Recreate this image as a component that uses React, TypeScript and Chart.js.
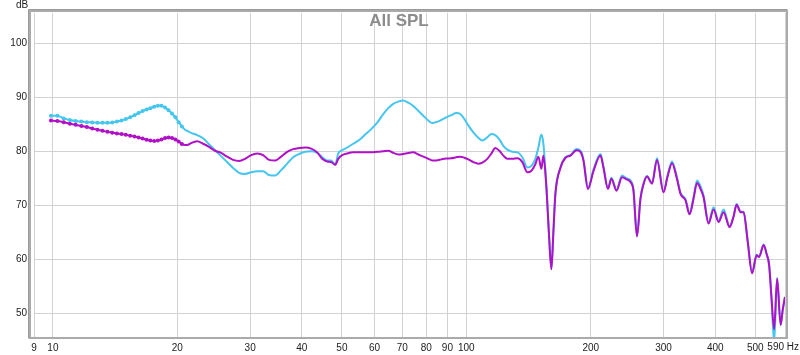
import React, { useEffect, useRef } from "react";
import { Chart, registerables } from "chart.js";

Chart.register(...registerables);

const chartTitle = "All SPL";
const yUnit = "dB";
const xUnit = "Hz";

const xTicks = [9, 10, 20, 30, 40, 50, 60, 70, 80, 90, 100, 200, 300, 400, 500, 590];
const yTicks = [50, 60, 70, 80, 90, 100];

const freqs = [
  9.89, 10.25, 10.62, 10.99, 11.35, 11.72, 12.08, 12.45, 12.82, 13.18,
  13.55, 13.92, 14.28, 14.65, 15.01, 15.38, 15.75, 16.11, 16.48, 16.85,
  17.21, 17.58, 17.94, 18.31, 18.68, 19.04, 19.41, 19.78, 20.14, 20.51,
  20.87, 21.24,
  21.58, 22.32, 23.08, 23.86, 24.67, 25.51, 26.38, 27.28, 28.21, 29.17,
  30.16, 31.19, 32.25, 33.34, 34.48, 35.65, 36.86, 38.12, 39.41, 40.75,
  42.14, 43.57, 44.81, 46.07, 47.11, 48.17, 48.99, 50.09, 51.51, 53.26,
  55.07, 56.94, 58.88, 60.88, 62.96, 64.74, 66.57, 68.45, 70.38, 72.37,
  74.42, 76.52, 78.69, 80.91, 82.73, 84.6, 86.99, 89.45, 91.98, 94.58,
  96.71, 98.9,
  101.1, 103.98, 106.9, 109.3, 112.4, 115.0, 117.5, 120.2, 122.9, 125.7,
  129.2, 132.9, 136.6, 140.5, 143.7, 146.9, 149.4, 151.9, 153.6, 156.2,
  158.4, 160.6, 162.4, 164.2, 168.9, 173.7, 178.6, 184.7, 188.8, 192.0,
  196.9, 203.0, 211.1, 214.6, 220.1, 224.4, 230.8, 238.0, 244.0, 249.5,
  253.7, 258.7, 263.8, 268.3, 273.6, 281.3, 289.2, 299.9, 306.7, 314.5,
  322.5, 329.7, 339.1, 346.7, 354.5, 361.5, 368.6, 374.8, 385.4, 396.3,
  407.5, 419.1, 433.3, 443.1, 450.6, 460.7, 468.5, 479.1, 491.2, 503.7,
  510.8, 523.8, 532.6, 540.1, 547.6, 555.3, 564.7, 575.8, 582.3, 590,
];

const cyanSpl = [
  86.6, 86.6, 86.1, 85.8, 85.6, 85.5, 85.4, 85.35, 85.3, 85.3,
  85.3, 85.35, 85.5, 85.7, 86.0, 86.3, 86.7, 87.1, 87.45, 87.75,
  88.0, 88.25, 88.45, 88.45, 88.1, 87.6, 87.0, 86.3, 85.4, 84.6,
  84.0, 83.7,
  83.4, 83.0, 82.4, 81.3, 80.2, 79.1, 78.0, 76.9, 76.0, 75.8,
  76.1, 76.3, 76.3, 75.6, 75.5, 76.5, 77.7, 78.9, 79.5, 79.9,
  80.0, 79.7, 78.9, 78.3, 78.3, 77.5, 79.6, 80.2, 80.7, 81.4,
  82.1, 83.1, 84.1, 85.3, 86.9, 88.0, 88.8, 89.2, 89.4, 89.0,
  88.4, 87.5, 86.6, 85.7, 85.25, 85.4, 85.8, 86.3, 86.7, 87.1,
  86.9, 86.0,
  84.8, 83.5, 82.5, 82.0, 82.6, 83.2, 83.0, 82.2, 81.0, 80.3,
  79.9, 79.8, 78.9, 77.0, 77.3, 78.6, 80.7, 83.1, 81.4, 73.5,
  65.0, 58.2, 65.0, 72.1, 77.0, 78.9, 79.3, 80.4, 80.1, 78.5,
  73.2, 76.6, 79.5, 77.2, 73.2, 75.1, 72.9, 75.5, 75.0, 74.6,
  72.9, 64.3, 71.3, 74.0, 75.4, 74.1, 78.7, 72.5, 75.5, 78.1,
  75.5, 72.3, 71.1, 68.5, 71.5, 74.6, 73.5, 71.8, 66.8, 69.6,
  67.1, 69.2, 66.1, 68.0, 70.2, 68.8, 68.8, 63.5, 57.5, 60.8,
  60.5, 62.7, 61.0, 59.0, 52.5, 44.5, 56.5, 47.8, 50.5, 53.0,
];

const magentaSpl = [
  85.7, 85.6, 85.4, 85.1, 84.9, 84.7, 84.5, 84.2, 84.0, 83.8,
  83.6, 83.45, 83.3, 83.2, 83.05, 82.9, 82.75, 82.55, 82.35, 82.15,
  82.0, 81.9, 82.0, 82.2, 82.45, 82.55, 82.45, 82.2, 81.8, 81.35,
  81.15, 81.2,
  81.5, 81.85, 81.4, 80.8, 80.1, 79.7, 79.0, 78.4, 78.2, 78.6,
  79.3, 79.6, 79.3, 78.4, 78.3, 79.0, 79.9, 80.4, 80.6, 80.7,
  80.5, 79.8, 78.6, 78.1, 78.0, 77.5, 78.6, 79.3, 79.6, 79.8,
  79.8, 79.8, 79.8, 79.9, 80.0, 80.1, 79.7, 79.4, 79.5, 79.7,
  79.8, 79.4, 79.0, 78.6, 78.3, 78.3, 78.5, 78.65, 78.7, 78.9,
  79.0, 78.8,
  78.5, 78.0, 77.7, 77.9, 78.6, 79.6, 80.6, 80.1, 79.2, 78.6,
  78.6, 78.7, 78.0, 76.1, 76.4, 77.6, 79.0, 76.75, 79.2, 73.3,
  64.8, 58.1, 65.0, 72.0, 76.9, 78.8, 79.2, 80.2, 79.9, 78.3,
  73.0, 76.3, 79.2, 77.0, 73.0, 74.9, 72.7, 75.2, 74.8, 74.3,
  72.7, 64.2, 71.2, 73.9, 75.3, 74.0, 78.4, 72.4, 75.3, 77.8,
  75.2, 72.1, 70.9, 68.3, 71.2, 74.1, 73.0, 71.5, 66.6, 69.2,
  66.9, 68.7, 65.95, 67.9, 70.1, 68.7, 68.7, 63.4, 57.4, 60.7,
  60.4, 62.6, 60.9, 58.9, 52.5, 47.0, 56.4, 47.8, 50.5, 53.0,
];

const CYAN = "#45c6ee";
const MAGENTA = "#b010c8";
const FONT = "Arial, 'Liberation Sans', sans-serif";
const TICK_SIZE = 10;
const lastTick = xTicks[xTicks.length - 1];

const framePlugin = {
  id: "frameAndLabels",
  afterDraw(chart: any) {
    const { ctx, chartArea } = chart;
    ctx.save();
    // frame
    ctx.strokeStyle = "#ababab";
    ctx.lineWidth = 2;
    ctx.strokeRect(chartArea.left - 4, chartArea.top - 2, chartArea.right - chartArea.left + 6, chartArea.bottom - chartArea.top + 3);
    ctx.strokeStyle = "#9a9a9a";
    ctx.lineWidth = 1;
    ctx.beginPath();
    ctx.moveTo(chartArea.left - 5.5, chartArea.bottom + 1.5);
    ctx.lineTo(chartArea.left - 5.5, chartArea.top - 3.5);
    ctx.lineTo(chartArea.right + 2.5, chartArea.top - 3.5);
    ctx.stroke();
    // title
    ctx.fillStyle = "#8c8c8c";
    ctx.font = `bold 17px ${FONT}`;
    ctx.textAlign = "center";
    ctx.textBaseline = "middle";
    ctx.fillText(chartTitle, 399, 21);
    // units
    ctx.fillStyle = "#222";
    ctx.font = `${TICK_SIZE}px ${FONT}`;
    ctx.textAlign = "left";
    ctx.textBaseline = "middle";
    ctx.fillText(yUnit, 16, 5);
    const xs = chart.scales.x;
    ctx.textAlign = "right";
    ctx.fillText(`${lastTick} ${xUnit}`, 799, xs.top + 10.5);
    ctx.restore();
  },
};

export default function App() {
  const ref = useRef<HTMLCanvasElement>(null);
  useEffect(() => {
    const mk = (ys: number[]) => freqs.map((f, i) => ({ x: f, y: ys[i] }));
    const dot = (c: any) => (c.raw && c.raw.x < 20.7 ? 2 : 0);
    const chart = new Chart(ref.current as HTMLCanvasElement, {
      type: "line",
      data: {
        datasets: [
          {
            label: "B",
            data: mk(magentaSpl),
            borderColor: MAGENTA,
            backgroundColor: MAGENTA,
            pointBackgroundColor: MAGENTA,
            borderWidth: 2,
            pointRadius: dot as any,
            pointBorderWidth: 0,
            cubicInterpolationMode: "monotone",
          },
          {
            label: "A",
            data: mk(cyanSpl),
            borderColor: CYAN,
            backgroundColor: CYAN,
            pointBackgroundColor: CYAN,
            borderWidth: 2,
            pointRadius: dot as any,
            pointBorderWidth: 0,
            cubicInterpolationMode: "monotone",
          },
        ],
      },
      options: {
        animation: false,
        responsive: false,
        devicePixelRatio: 1,
        layout: { padding: { top: 12, right: 15, left: 0, bottom: 0 } },
        plugins: {
          legend: { display: false },
          tooltip: { enabled: false },
          title: { display: false },
        },
        scales: {
          x: {
            type: "logarithmic",
            min: 9,
            max: 590,
            afterBuildTicks: (s: any) => {
              s.ticks = xTicks.map((v) => ({ value: v }));
            },
            afterFit: (s: any) => {
              s.height = 18;
            },
            ticks: {
              autoSkip: false,
              maxRotation: 0,
              minRotation: 0,
              padding: 5,
              color: "#222",
              font: { family: FONT, size: TICK_SIZE },
              callback: (v: any) => (v === lastTick ? "" : String(v)),
            },
            grid: { color: "#d2d2d2", drawTicks: false, lineWidth: 1 },
            border: { display: false },
          },
          y: {
            type: "linear",
            min: 45.56,
            max: 105.64,
            afterBuildTicks: (s: any) => {
              s.ticks = yTicks.map((v) => ({ value: v }));
            },
            afterFit: (s: any) => {
              s.width = 34;
            },
            ticks: {
              padding: 7,
              color: "#222",
              font: { family: FONT, size: TICK_SIZE },
              callback: (v: any) => String(v),
            },
            grid: { color: "#d2d2d2", drawTicks: false, lineWidth: 1 },
            border: { display: false },
          },
        },
      } as any,
      plugins: [framePlugin],
    });
    return () => chart.destroy();
  }, []);
  return (
    <div style={{ position: "fixed", left: 0, top: 0, width: 800, height: 355, background: "#fff" }}>
      <canvas ref={ref} width={800} height={355} style={{ display: "block", width: 800, height: 355 }} />
    </div>
  );
}
